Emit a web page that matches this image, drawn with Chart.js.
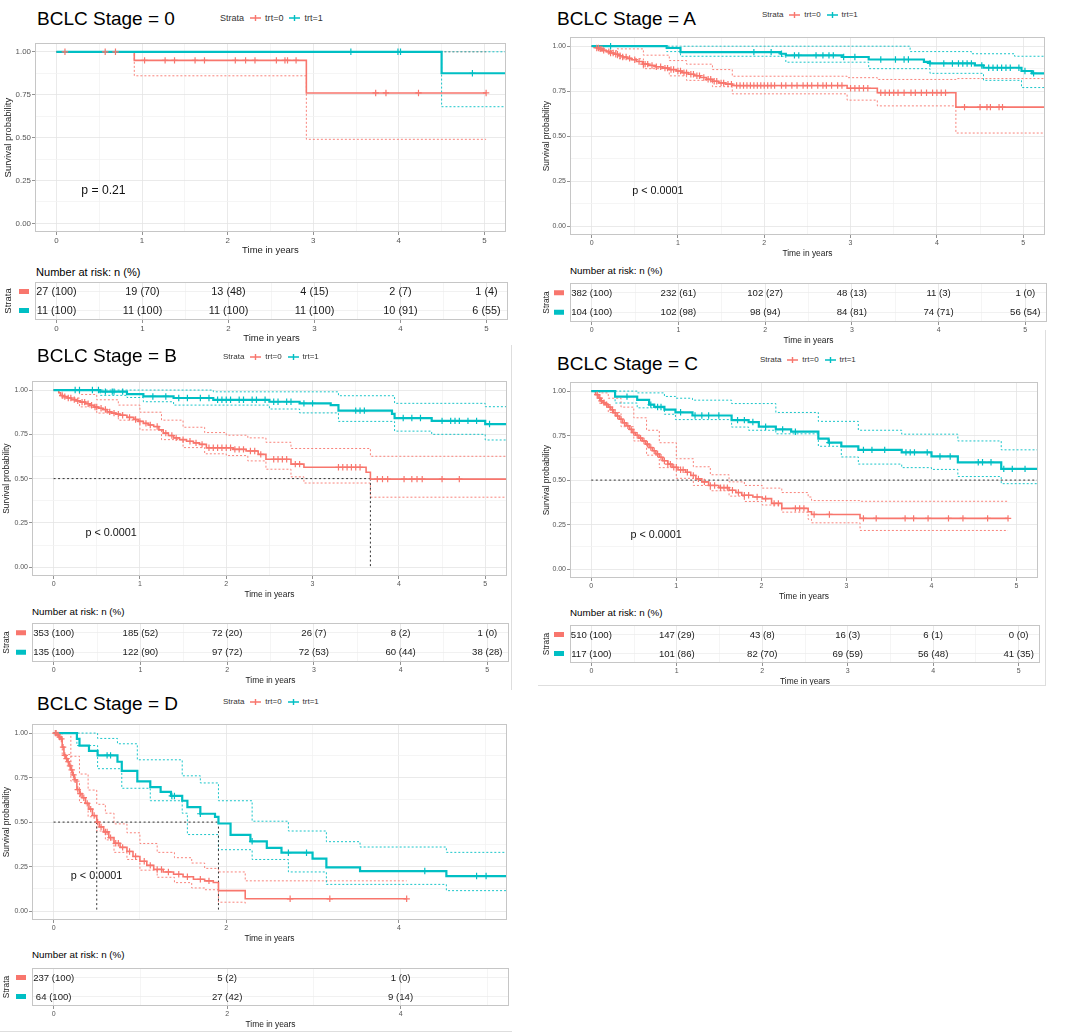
<!DOCTYPE html>
<html>
<head>
<meta charset="utf-8">
<title>BCLC stage survival</title>
<script src="https://cdn.jsdelivr.net/npm/chart.js@4.4.1/dist/chart.umd.min.js"></script>
<style>
  body { margin: 0; background: #fff; }
  #page { position: relative; width: 1065px; height: 1036px; overflow: hidden; font-family: "Liberation Sans", Arial, sans-serif; }
  #page canvas { position: absolute; }
  .txt { position: absolute; white-space: nowrap; line-height: 1; color: #000; }
  .leg { position: absolute; display: flex; align-items: center; height: 10px; line-height: 10px; white-space: nowrap; color: #333; }
  .leg svg { margin: 0 4px 0 6px; }
  .rule { position: absolute; background: #dedede; }
</style>
</head>
<body>
<div id="page"></div>
<script>
// ---------- data ----------
const yearTicks = [0, 1, 2, 3, 4, 5];
const yearTicksD = [0, 2, 4];
const survTicks = [0, 0.25, 0.5, 0.75, 1];
const survLabels = ['0.00', '0.25', '0.50', '0.75', '1.00'];
const strata = ['trt=0', 'trt=1'];

// Stage 0
const st0_t0 = [0, 0.91, 2.92, 5.02];
const st0_s0 = [1, 0.95, 0.76, 0.76];
const st0_c0 = [0.10, 0.57, 0.69, 1.03, 1.27, 1.38, 1.62, 1.73, 2.09, 2.21, 2.32, 2.57, 2.67, 2.70, 2.80, 3.73, 3.85, 4.23, 5.02];
const st0_ci0 = [0, 0.91, 2.92, 5.02];
const st0_lo0 = [1, 0.86, 0.49, 0.49];
const st0_hi0 = [1, 1, 1, 1];
const st0_t1 = [0, 4.50, 5.25];
const st0_s1 = [1, 0.875, 0.875];
const st0_c1 = [3.44, 3.99, 4.02, 4.86];
const st0_ci1 = [0, 4.50, 5.25];
const st0_lo1 = [1, 0.68, 0.68];
const st0_hi1 = [1, 1, 1];
const st0_n0 = [27, 19, 13, 4, 2, 1];
const st0_p0 = [100, 70, 48, 15, 7, 4];
const st0_n1 = [11, 11, 11, 11, 10, 6];
const st0_p1 = [100, 100, 100, 100, 91, 55];

// Stage A
const stA_t0 = [0, 0.03, 0.06, 0.09, 0.13, 0.17, 0.21, 0.26, 0.31, 0.36, 0.41, 0.46, 0.52, 0.59, 0.66, 0.74, 0.82, 0.90, 0.98, 1.05, 1.12, 1.19, 1.26, 1.33, 1.40, 1.47, 1.55, 1.63, 2.96, 3.31, 4.22, 5.25];
const stA_s0 = [1, 0.995, 0.99, 0.985, 0.977, 0.97, 0.962, 0.955, 0.947, 0.94, 0.932, 0.925, 0.915, 0.90, 0.893, 0.886, 0.878, 0.87, 0.862, 0.853, 0.844, 0.836, 0.826, 0.816, 0.805, 0.796, 0.789, 0.781, 0.766, 0.741, 0.661, 0.661];
const stA_c0 = [0.06, 0.08, 0.1, 0.12, 0.14, 0.2, 0.22, 0.25, 0.28, 0.3, 0.33, 0.36, 0.4, 0.44, 0.5, 0.55, 0.6, 0.62, 0.65, 0.7, 0.75, 0.8, 0.85, 0.88, 0.92, 0.95, 1.0, 1.03, 1.07, 1.1, 1.15, 1.18, 1.22, 1.25, 1.3, 1.35, 1.38, 1.42, 1.45, 1.5, 1.53, 1.58, 1.62, 1.68, 1.72, 1.76, 1.8, 1.84, 1.88, 1.92, 1.96, 2.0, 2.04, 2.08, 2.12, 2.2, 2.25, 2.32, 2.38, 2.45, 2.5, 2.55, 2.62, 2.68, 2.72, 2.78, 2.85, 2.9, 3.0, 3.05, 3.1, 3.15, 3.2, 3.35, 3.4, 3.45, 3.5, 3.55, 3.62, 3.7, 3.75, 3.82, 3.88, 3.95, 4.0, 4.05, 4.1, 4.32, 4.5, 4.58, 4.62, 4.72, 4.76];
const stA_ci0 = [0, 0.1, 0.3, 0.6, 0.9, 1.1, 1.4, 1.63, 2.96, 3.31, 4.22, 5.25];
const stA_lo0 = [1, 0.975, 0.93, 0.875, 0.835, 0.81, 0.775, 0.735, 0.70, 0.668, 0.517, 0.517];
const stA_hi0 = [1, 1, 0.985, 0.95, 0.92, 0.9, 0.87, 0.833, 0.825, 0.815, 0.82, 0.82];
const stA_t1 = [0, 0.87, 1.03, 2.19, 2.25, 2.9, 3.21, 3.85, 3.92, 4.44, 4.54, 4.98, 5.1, 5.25];
const stA_s1 = [1, 0.99, 0.967, 0.958, 0.949, 0.94, 0.926, 0.913, 0.904, 0.893, 0.88, 0.862, 0.849, 0.849];
const stA_c1 = [0.22, 1.88, 2.08, 2.2, 2.35, 2.4, 2.6, 2.68, 2.75, 2.8, 2.92, 3.05, 3.35, 3.52, 3.62, 3.67, 3.92, 4.08, 4.18, 4.25, 4.3, 4.35, 4.4, 4.52, 4.6, 4.65, 4.7, 4.75, 4.8, 4.85, 4.95, 5.02, 5.12];
const stA_ci1 = [0, 0.87, 1.03, 2.25, 3.21, 3.69, 3.92, 4.4, 4.54, 4.9, 4.98, 5.25];
const stA_lo1 = [1, 0.97, 0.944, 0.911, 0.875, 0.875, 0.849, 0.849, 0.81, 0.81, 0.77, 0.77];
const stA_hi1 = [1, 1, 1, 1, 1, 0.97, 0.97, 0.958, 0.958, 0.944, 0.944, 0.93];
const stA_n0 = [382, 232, 102, 48, 11, 1];
const stA_p0 = [100, 61, 27, 13, 3, 0];
const stA_n1 = [104, 102, 98, 84, 74, 56];
const stA_p1 = [100, 98, 94, 81, 71, 54];

// Stage B
const stB_t0 = [0, 0.06, 0.08, 0.12, 0.16, 0.21, 0.26, 0.31, 0.37, 0.42, 0.47, 0.52, 0.57, 0.62, 0.67, 0.72, 0.77, 0.85, 0.93, 0.98, 1.04, 1.1, 1.16, 1.22, 1.27, 1.33, 1.39, 1.46, 1.54, 1.62, 1.69, 1.77, 2.08, 2.23, 2.37, 2.46, 2.75, 2.9, 3.62, 3.67, 5.25];
const stB_s0 = [1, 0.985, 0.969, 0.963, 0.955, 0.946, 0.939, 0.932, 0.923, 0.914, 0.904, 0.897, 0.89, 0.877, 0.87, 0.864, 0.858, 0.846, 0.834, 0.823, 0.812, 0.803, 0.794, 0.775, 0.757, 0.743, 0.73, 0.72, 0.711, 0.702, 0.693, 0.674, 0.665, 0.656, 0.637, 0.609, 0.582, 0.564, 0.536, 0.497, 0.497];
const stB_c0 = [0.1, 0.13, 0.17, 0.2, 0.24, 0.28, 0.33, 0.36, 0.4, 0.44, 0.48, 0.5, 0.55, 0.6, 0.65, 0.7, 0.75, 0.8, 0.88, 0.95, 1.0, 1.07, 1.12, 1.2, 1.3, 1.37, 1.42, 1.5, 1.58, 1.65, 1.72, 1.8, 1.85, 1.9, 1.95, 2.0, 2.05, 2.1, 2.15, 2.2, 2.28, 2.33, 2.4, 2.55, 2.6, 2.65, 2.7, 2.8, 2.85, 3.3, 3.35, 3.4, 3.45, 3.5, 3.55, 3.75, 3.81, 3.87, 4.06, 4.15, 4.21, 4.27, 4.5, 4.7];
const stB_ci0 = [0, 0.1, 0.3, 0.5, 0.75, 1.0, 1.25, 1.5, 1.75, 2.0, 2.25, 2.46, 2.75, 2.9, 3.67, 5.25];
const stB_lo0 = [1, 0.955, 0.905, 0.87, 0.83, 0.775, 0.72, 0.675, 0.64, 0.63, 0.6, 0.553, 0.51, 0.475, 0.395, 0.395];
const stB_hi0 = [1, 1, 0.975, 0.945, 0.915, 0.875, 0.83, 0.79, 0.76, 0.745, 0.73, 0.705, 0.67, 0.67, 0.626, 0.626];
const stB_t1 = [0, 0.54, 0.85, 1.04, 1.39, 1.85, 2.5, 2.85, 3.21, 3.3, 3.92, 3.95, 4.38, 5.0, 5.25];
const stB_s1 = [1, 0.991, 0.977, 0.964, 0.955, 0.945, 0.934, 0.925, 0.915, 0.884, 0.866, 0.842, 0.826, 0.808, 0.808];
const stB_c1 = [0.25, 0.3, 0.45, 0.52, 0.6, 0.68, 0.7, 0.8, 1.15, 1.3, 1.45, 1.55, 1.7, 1.8, 1.9, 1.95, 2.0, 2.05, 2.15, 2.2, 2.3, 2.35, 2.45, 2.55, 2.6, 2.7, 2.75, 2.9, 3.0, 3.5, 3.55, 3.6, 4.05, 4.15, 4.25, 4.5, 4.6, 4.65, 4.7, 4.8, 4.9, 5.05];
const stB_ci1 = [0, 0.54, 0.85, 1.04, 1.39, 1.85, 2.5, 2.85, 3.21, 3.3, 3.92, 3.95, 4.38, 5.0, 5.25];
const stB_lo1 = [1, 0.97, 0.958, 0.934, 0.915, 0.915, 0.893, 0.871, 0.871, 0.823, 0.823, 0.768, 0.75, 0.718, 0.718];
const stB_hi1 = [1, 1, 1, 1, 1, 0.99, 0.99, 0.99, 0.99, 0.968, 0.968, 0.925, 0.925, 0.906, 0.906];
const stB_n0 = [353, 185, 72, 26, 8, 1];
const stB_p0 = [100, 52, 20, 7, 2, 0];
const stB_n1 = [135, 122, 97, 72, 60, 38];
const stB_p1 = [100, 90, 72, 53, 44, 28];
const stB_median = [3.67];

// Stage C
const stC_t0 = [0, 0.05, 0.08, 0.11, 0.14, 0.17, 0.2, 0.23, 0.26, 0.29, 0.33, 0.37, 0.41, 0.45, 0.48, 0.52, 0.56, 0.6, 0.64, 0.68, 0.72, 0.76, 0.8, 0.84, 0.9, 0.95, 1.02, 1.11, 1.17, 1.23, 1.3, 1.38, 1.5, 1.62, 1.7, 1.77, 1.9, 2.01, 2.12, 2.24, 2.55, 2.59, 3.16, 4.9];
const stC_s0 = [1, 0.98, 0.961, 0.945, 0.935, 0.924, 0.91, 0.895, 0.878, 0.86, 0.842, 0.822, 0.805, 0.785, 0.767, 0.752, 0.736, 0.72, 0.702, 0.683, 0.665, 0.647, 0.628, 0.609, 0.59, 0.572, 0.558, 0.544, 0.526, 0.507, 0.49, 0.47, 0.458, 0.443, 0.43, 0.415, 0.405, 0.396, 0.369, 0.341, 0.322, 0.307, 0.285, 0.285];
const stC_c0 = [0.07, 0.1, 0.12, 0.15, 0.18, 0.22, 0.25, 0.28, 0.31, 0.35, 0.39, 0.43, 0.47, 0.5, 0.54, 0.58, 0.62, 0.66, 0.7, 0.74, 0.78, 0.82, 0.86, 0.9, 0.93, 0.97, 1.0, 1.05, 1.08, 1.13, 1.2, 1.26, 1.33, 1.4, 1.45, 1.52, 1.56, 1.6, 1.66, 1.73, 1.8, 1.85, 1.95, 2.05, 2.15, 2.2, 2.4, 2.45, 2.5, 2.62, 2.8, 3.2, 3.35, 3.69, 3.79, 3.96, 4.2, 4.37, 4.66, 4.9];
const stC_ci0 = [0, 0.1, 0.2, 0.35, 0.5, 0.65, 0.8, 1.0, 1.2, 1.4, 1.62, 1.8, 2.01, 2.24, 2.55, 2.59, 3.16, 4.9];
const stC_lo0 = [1, 0.93, 0.88, 0.8, 0.72, 0.64, 0.57, 0.51, 0.47, 0.44, 0.41, 0.38, 0.36, 0.32, 0.28, 0.26, 0.217, 0.217];
const stC_hi0 = [1, 0.99, 0.96, 0.91, 0.85, 0.78, 0.71, 0.62, 0.575, 0.53, 0.49, 0.47, 0.455, 0.43, 0.405, 0.385, 0.381, 0.381];
const stC_t1 = [0, 0.28, 0.54, 0.68, 0.74, 0.86, 0.99, 1.19, 1.65, 1.85, 1.97, 2.17, 2.35, 2.67, 2.79, 2.94, 3.14, 3.65, 4.0, 4.31, 4.82, 5.25];
const stC_s1 = [1, 0.969, 0.951, 0.924, 0.911, 0.896, 0.881, 0.863, 0.837, 0.826, 0.8, 0.785, 0.772, 0.733, 0.711, 0.689, 0.67, 0.656, 0.633, 0.6, 0.563, 0.563];
const stC_c1 = [0.42, 0.7, 0.78, 0.82, 1.05, 1.22, 1.3, 1.38, 1.5, 1.72, 1.8, 1.9, 2.05, 2.25, 2.4, 2.8, 3.2, 3.3, 3.45, 3.7, 3.75, 3.8, 3.95, 4.1, 4.22, 4.55, 4.6, 4.7, 4.85, 4.95, 5.1];
const stC_ci1 = [0, 0.28, 0.54, 0.86, 0.99, 1.19, 1.65, 1.85, 2.17, 2.67, 2.94, 3.14, 3.65, 4.0, 4.31, 4.82, 5.25];
const stC_lo1 = [1, 0.933, 0.906, 0.87, 0.84, 0.84, 0.798, 0.78, 0.76, 0.69, 0.63, 0.59, 0.57, 0.56, 0.52, 0.48, 0.48];
const stC_hi1 = [1, 1, 0.99, 0.97, 0.96, 0.949, 0.93, 0.93, 0.88, 0.83, 0.83, 0.78, 0.758, 0.758, 0.72, 0.67, 0.67];
const stC_n0 = [510, 147, 43, 16, 6, 0];
const stC_p0 = [100, 29, 8, 3, 1, 0];
const stC_n1 = [117, 101, 82, 69, 56, 41];
const stC_p1 = [100, 86, 70, 59, 48, 35];
const stC_median = [];

// Stage D
const stD_t0 = [0, 0.04, 0.06, 0.08, 0.1, 0.12, 0.14, 0.16, 0.18, 0.2, 0.22, 0.24, 0.27, 0.3, 0.33, 0.37, 0.41, 0.45, 0.5, 0.53, 0.58, 0.64, 0.7, 0.77, 0.85, 0.92, 1.0, 1.08, 1.16, 1.27, 1.39, 1.5, 1.62, 1.75, 1.85, 1.91, 2.22, 4.09];
const stD_s0 = [1, 0.99, 0.978, 0.967, 0.921, 0.875, 0.857, 0.839, 0.816, 0.793, 0.765, 0.738, 0.683, 0.66, 0.637, 0.605, 0.573, 0.537, 0.5, 0.473, 0.445, 0.413, 0.381, 0.358, 0.335, 0.307, 0.28, 0.257, 0.234, 0.22, 0.207, 0.193, 0.179, 0.17, 0.161, 0.115, 0.069, 0.069];
const stD_c0 = [0.02, 0.03, 0.05, 0.07, 0.09, 0.11, 0.13, 0.15, 0.17, 0.19, 0.21, 0.23, 0.25, 0.28, 0.31, 0.35, 0.39, 0.43, 0.47, 0.51, 0.55, 0.6, 0.62, 0.66, 0.72, 0.75, 0.8, 0.88, 0.95, 1.05, 1.12, 1.2, 1.25, 1.33, 1.45, 1.55, 1.7, 1.8, 2.74, 3.2, 4.09];
const stD_ci0 = [0, 0.1, 0.2, 0.3, 0.4, 0.5, 0.6, 0.7, 0.85, 1.0, 1.2, 1.4, 1.6, 1.75, 1.91, 2.22, 4.09];
const stD_lo0 = [1, 0.88, 0.73, 0.61, 0.53, 0.45, 0.4, 0.33, 0.29, 0.23, 0.19, 0.16, 0.13, 0.12, 0.05, 0.04, null];
const stD_hi0 = [1, 1, 0.87, 0.77, 0.68, 0.6, 0.55, 0.49, 0.44, 0.38, 0.33, 0.3, 0.27, 0.24, 0.22, 0.17, 0.17];
const stD_t1 = [0, 0.27, 0.3, 0.41, 0.51, 0.74, 0.79, 0.97, 1.12, 1.24, 1.36, 1.49, 1.55, 1.7, 1.87, 1.91, 2.05, 2.28, 2.47, 2.64, 3.0, 3.16, 3.55, 4.55, 5.25];
const stD_s1 = [1, 0.967, 0.93, 0.9, 0.875, 0.839, 0.788, 0.729, 0.696, 0.67, 0.647, 0.62, 0.584, 0.547, 0.529, 0.492, 0.428, 0.392, 0.355, 0.328, 0.295, 0.246, 0.225, 0.197, 0.197];
const stD_c1 = [0.62, 0.66, 1.37, 1.4, 1.7, 2.3, 2.72, 2.93, 4.3, 4.9, 5.01];
const stD_ci1 = [0, 0.27, 0.51, 0.74, 0.79, 0.97, 1.12, 1.49, 1.55, 1.7, 1.91, 2.3, 2.72, 3.16, 3.55, 4.55, 5.25];
const stD_lo1 = [1, 0.93, 0.8, 0.8, 0.69, 0.69, 0.62, 0.55, 0.43, 0.43, 0.345, 0.29, 0.22, 0.15, 0.15, 0.115, 0.115];
const stD_hi1 = [1, 1, 0.97, 0.94, 0.94, 0.85, 0.85, 0.76, 0.76, 0.72, 0.62, 0.505, 0.45, 0.39, 0.36, 0.33, 0.33];
const stD_n0 = [237, 5, 1];
const stD_p0 = [100, 2, 0];
const stD_n1 = [64, 27, 9];
const stD_p1 = [100, 42, 14];
const stD_median = [0.5, 1.91];

// ---------- layout ----------
const COLORS = ['#F8766D', '#00BFC4'];
const LINE_W = [1.6, 2.2];
const FONT = '"Liberation Sans", Arial, sans-serif';
Chart.defaults.font.family = FONT;
Chart.defaults.animation = false;

const panels = [
  { name: '0', L: 35, T: 39, R: 508, B: 232, tT: 282, tB: 320, k: 1.13, title: [37, 18], legend: [220, 18], head: [36, 272], yTitle: 27,
    pval: ['p = 0.21', 0.29, 0.19], xMajor: yearTicks, median: null,
    curves: [{ t: st0_t0, s: st0_s0, c: st0_c0, ci: st0_ci0, lo: st0_lo0, hi: st0_hi0 }, { t: st0_t1, s: st0_s1, c: st0_c1, ci: st0_ci1, lo: st0_lo1, hi: st0_hi1 }],
    risk: { t: yearTicks, n: [st0_n0, st0_n1], p: [st0_p0, st0_p1] } },
  { name: 'A', L: 570, T: 33, R: 1047, B: 235, tT: 283, tB: 322, k: 1, title: [557, 18], legend: [762, 15], head: [570, 271], yTitle: 23,
    pval: ['p < 0.0001', 0.47, 0.197], xMajor: yearTicks, median: null,
    curves: [{ t: stA_t0, s: stA_s0, c: stA_c0, ci: stA_ci0, lo: stA_lo0, hi: stA_hi0 }, { t: stA_t1, s: stA_s1, c: stA_c1, ci: stA_ci1, lo: stA_lo1, hi: stA_hi1 }],
    risk: { t: yearTicks, n: [stA_n0, stA_n1], p: [stA_p0, stA_p1] } },
  { name: 'B', L: 32, T: 377, R: 509, B: 576, tT: 623, tB: 662, k: 1, title: [37, 355], legend: [223, 357], head: [32, 612], yTitle: 25,
    pval: ['p < 0.0001', 0.37, 0.195], xMajor: yearTicks, median: stB_median,
    curves: [{ t: stB_t0, s: stB_s0, c: stB_c0, ci: stB_ci0, lo: stB_lo0, hi: stB_hi0 }, { t: stB_t1, s: stB_s1, c: stB_c1, ci: stB_ci1, lo: stB_lo1, hi: stB_hi1 }],
    risk: { t: yearTicks, n: [stB_n0, stB_n1], p: [stB_p0, stB_p1] } },
  { name: 'C', L: 570, T: 378, R: 1040, B: 578, tT: 625, tB: 663, k: 1, title: [557, 363], legend: [760, 360], head: [570, 613], yTitle: 23,
    pval: ['p < 0.0001', 0.46, 0.193], xMajor: yearTicks, median: stC_median,
    curves: [{ t: stC_t0, s: stC_s0, c: stC_c0, ci: stC_ci0, lo: stC_lo0, hi: stC_hi0 }, { t: stC_t1, s: stC_s1, c: stC_c1, ci: stC_ci1, lo: stC_lo1, hi: stC_hi1 }],
    risk: { t: yearTicks, n: [stC_n0, stC_n1], p: [stC_p0, stC_p1] } },
  { name: 'D', L: 32, T: 720, R: 509, B: 920, tT: 968, tB: 1006, k: 1, title: [37, 703], legend: [223, 702], head: [32, 955], yTitle: 25,
    pval: ['p < 0.0001', 0.2, 0.198], xMajor: yearTicksD, median: stD_median,
    curves: [{ t: stD_t0, s: stD_s0, c: stD_c0, ci: stD_ci0, lo: stD_lo0, hi: stD_hi0 }, { t: stD_t1, s: stD_s1, c: stD_c1, ci: stD_ci1, lo: stD_lo1, hi: stD_hi1 }],
    risk: { t: yearTicksD, n: [stD_n0, stD_n1], p: [stD_p0, stD_p1] } }
];

const page = document.getElementById('page');

function stepAt(t, s, x) {
  let v = s[0];
  for (let i = 0; i < t.length && t[i] <= x + 1e-9; i++) v = s[i];
  return v;
}
function isMajor(v, major) { return major.some(m => Math.abs(m - v) < 1e-6); }
function gridValues(major, lo, hi) {
  const step = major[1] - major[0], out = [];
  for (let v = major[0] - step / 2; v <= hi + 1e-9; v += step / 2) if (v >= lo - 1e-9) out.push(+v.toFixed(4));
  return out;
}

// ---------- plugins ----------
const frame = {
  id: 'frame',
  afterDraw(chart) {
    const a = chart.chartArea, ctx = chart.ctx;
    ctx.save();
    ctx.strokeStyle = '#C6C6C6';
    ctx.lineWidth = 1;
    ctx.strokeRect(Math.round(a.left) + 0.5, Math.round(a.top) + 0.5, Math.round(a.width) - 1, Math.round(a.height) - 1);
    ctx.restore();
  }
};
const pvalText = {
  id: 'pvalText',
  afterDatasetsDraw(chart, args, o) {
    const ctx = chart.ctx;
    ctx.save();
    ctx.font = o.size + 'px ' + FONT;
    ctx.fillStyle = '#111';
    ctx.textAlign = 'left';
    ctx.textBaseline = 'middle';
    ctx.fillText(o.text, chart.scales.x.getPixelForValue(o.x), chart.scales.y.getPixelForValue(o.y));
    ctx.restore();
  }
};
const riskText = {
  id: 'riskText',
  afterDatasetsDraw(chart, args, o) {
    const ctx = chart.ctx, left = chart.chartArea.left;
    ctx.save();
    ctx.font = o.size + 'px ' + FONT;
    ctx.textAlign = 'center';
    ctx.textBaseline = 'middle';
    chart.data.datasets.forEach((ds, i) => {
      const pts = chart.getDatasetMeta(i).data;
      ctx.fillStyle = ds.barColor;
      ctx.fillRect(left - 16, pts[0].y - 2.5, 10, 5);
      ctx.fillStyle = '#1A1A1A';
      pts.forEach((pt, j) => ctx.fillText(ds.riskN[j] + ' (' + ds.riskP[j] + ')', pt.x, pt.y + 0.5));
    });
    ctx.restore();
  }
};

// ---------- axes ----------
function axisX(p) {
  const grid = gridValues(p.xMajor, -0.25, 5.25);
  return {
    type: 'linear', min: -0.25, max: 5.25,
    afterBuildTicks: s => { s.ticks = grid.map(v => ({ value: v })); },
    afterFit: s => { s.height = 26; s.paddingLeft = 0; s.paddingRight = 0; },
    ticks: { autoSkip: false, maxRotation: 0, minRotation: 0, padding: 1, color: '#555', font: { size: 7 * p.k },
      callback: v => isMajor(v, p.xMajor) ? String(v) : '' },
    grid: { color: c => isMajor(c.tick.value, p.xMajor) ? '#E4E4E4' : '#F2F2F2', lineWidth: 0.8, tickLength: 3,
      tickColor: c => isMajor(c.tick.value, p.xMajor) ? '#777' : 'rgba(0,0,0,0)' },
    border: { display: false },
    title: { display: true, text: 'Time in years', color: '#1A1A1A', font: { size: 8.4 * p.k }, padding: { top: 0, bottom: 2 } }
  };
}
function yTitle(p, text) {
  const size = 8.4 * p.k;
  return { display: true, text, color: '#1A1A1A', font: { size }, padding: { top: 36 - p.yTitle - 0.6 * size, bottom: 0 } };
}
function axisY(p) {
  const grid = gridValues(survTicks, -0.05, 1.05);
  return {
    type: 'linear', min: -0.05, max: 1.05,
    afterBuildTicks: s => { s.ticks = grid.map(v => ({ value: v })); },
    afterFit: s => { s.width = 36; s.paddingTop = 0; s.paddingBottom = 0; },
    ticks: { autoSkip: false, padding: 1, color: '#555', font: { size: 7 * p.k },
      callback: v => { const i = survTicks.findIndex(m => Math.abs(m - v) < 1e-6); return i < 0 ? '' : survLabels[i]; } },
    grid: { color: c => isMajor(c.tick.value, survTicks) ? '#E4E4E4' : '#F2F2F2', lineWidth: 0.8, tickLength: 3,
      tickColor: c => isMajor(c.tick.value, survTicks) ? '#777' : 'rgba(0,0,0,0)' },
    border: { display: false },
    title: yTitle(p, 'Survival probability')
  };
}

// ---------- builders ----------
function addCanvas(x, y, w, h) {
  const c = document.createElement('canvas');
  c.width = w; c.height = h;
  c.style.left = x + 'px'; c.style.top = y + 'px';
  page.appendChild(c);
  return c;
}
function addText(text, x, y, size) {
  const d = document.createElement('div');
  d.className = 'txt';
  d.textContent = text;
  d.style.left = x + 'px';
  d.style.top = (y - 0.49 * size) + 'px';
  d.style.fontSize = size + 'px';
  page.appendChild(d);
}
function key(col) {
  return '<svg width="11" height="8" viewBox="0 0 11 8"><path d="M0 4H11M5.5 1V7" stroke="' + col + '" stroke-width="1.4" fill="none"/></svg>';
}
function addLegend(p) {
  const d = document.createElement('div');
  d.className = 'leg';
  d.style.left = p.legend[0] + 'px';
  d.style.top = (p.legend[1] - 5) + 'px';
  d.style.fontSize = (8 * p.k) + 'px';
  d.innerHTML = '<span>Strata</span>' + key(COLORS[0]) + '<span>' + strata[0] + '</span>' + key(COLORS[1]) + '<span>' + strata[1] + '</span>';
  page.appendChild(d);
}

function kmChart(p) {
  const sets = [];
  p.curves.forEach((cv, g) => sets.push({
    data: cv.c.map(x => ({ x, y: stepAt(cv.t, cv.s, x) })), showLine: false, pointStyle: 'cross',
    pointRadius: 3.2, pointBorderWidth: 1.2, borderColor: COLORS[g], backgroundColor: COLORS[g]
  }));
  [1, 0].forEach(g => sets.push({
    data: p.curves[g].t.map((x, i) => ({ x, y: p.curves[g].s[i] })), borderColor: COLORS[g],
    borderWidth: LINE_W[g], stepped: 'before', pointRadius: 0
  }));
  if (p.median) {
    const end = p.median.length ? Math.max(...p.median) : 5.25;
    sets.push({ data: [{ x: 0, y: 0.5 }, { x: end, y: 0.5 }], borderColor: '#333', borderWidth: 1, borderDash: [2, 2.5], pointRadius: 0 });
    p.median.forEach(m => sets.push({ data: [{ x: m, y: 0.5 }, { x: m, y: 0 }], borderColor: '#333', borderWidth: 1, borderDash: [2, 2.5], pointRadius: 0 }));
  }
  [1, 0].forEach(g => ['lo', 'hi'].forEach(b => sets.push({
    data: p.curves[g].ci.map((x, i) => ({ x, y: p.curves[g][b][i] })), borderColor: COLORS[g],
    borderWidth: 0.9, borderDash: [2, 2], stepped: 'before', pointRadius: 0
  })));

  const c = addCanvas(p.L - 36, p.T - 1, p.R - p.L + 39, p.B - p.T + 27);
  new Chart(c, {
    type: 'line',
    data: { datasets: sets },
    plugins: [frame, pvalText],
    options: {
      responsive: false, animation: false, events: [],
      layout: { padding: { top: 1, right: 3, left: 0, bottom: 0 } },
      plugins: { legend: { display: false }, tooltip: { enabled: false },
        pvalText: { text: p.pval[0], x: p.pval[1], y: p.pval[2], size: 10.8 * p.k } },
      scales: { x: axisX(p), y: axisY(p) }
    }
  });
}

function riskChart(p) {
  const datasets = [0, 1].map(g => ({
    data: p.risk.t.map(x => ({ x, y: 2 - g })), riskN: p.risk.n[g], riskP: p.risk.p[g],
    barColor: COLORS[g], pointRadius: 0
  }));
  const c = addCanvas(p.L - 36, p.tT - 1, p.R - p.L + 39, p.tB - p.tT + 27);
  new Chart(c, {
    type: 'scatter',
    data: { datasets },
    plugins: [frame, riskText],
    options: {
      responsive: false, animation: false, events: [],
      layout: { padding: { top: 1, right: 3, left: 0, bottom: 0 } },
      plugins: { legend: { display: false }, tooltip: { enabled: false }, riskText: { size: 9.6 * p.k } },
      scales: {
        x: axisX(p),
        y: {
          type: 'linear', min: 0.5, max: 2.5,
          afterBuildTicks: s => { s.ticks = [{ value: 1 }, { value: 2 }]; },
          afterFit: s => { s.width = 36; s.paddingTop = 0; s.paddingBottom = 0; },
          ticks: { callback: () => '' },
          grid: { color: '#EDEDED', lineWidth: 0.8, drawTicks: false },
          border: { display: false },
          title: yTitle(p, 'Strata')
        }
      }
    }
  });
}

panels.forEach(p => {
  addText('BCLC Stage = ' + p.name, p.title[0], p.title[1], 19);
  addLegend(p);
  addText('Number at risk: n (%)', p.head[0], p.head[1], 9.8 * p.k);
  kmChart(p);
  riskChart(p);
});

// faint sub-figure frames
[[511, 345, 1, 345], [1045, 330, 1, 355], [538, 685, 508, 1], [0, 1031, 512, 1]].forEach(r => {
  const d = document.createElement('div');
  d.className = 'rule';
  d.style.left = r[0] + 'px'; d.style.top = r[1] + 'px';
  d.style.width = r[2] + 'px'; d.style.height = r[3] + 'px';
  page.appendChild(d);
});
</script>
</body>
</html>
